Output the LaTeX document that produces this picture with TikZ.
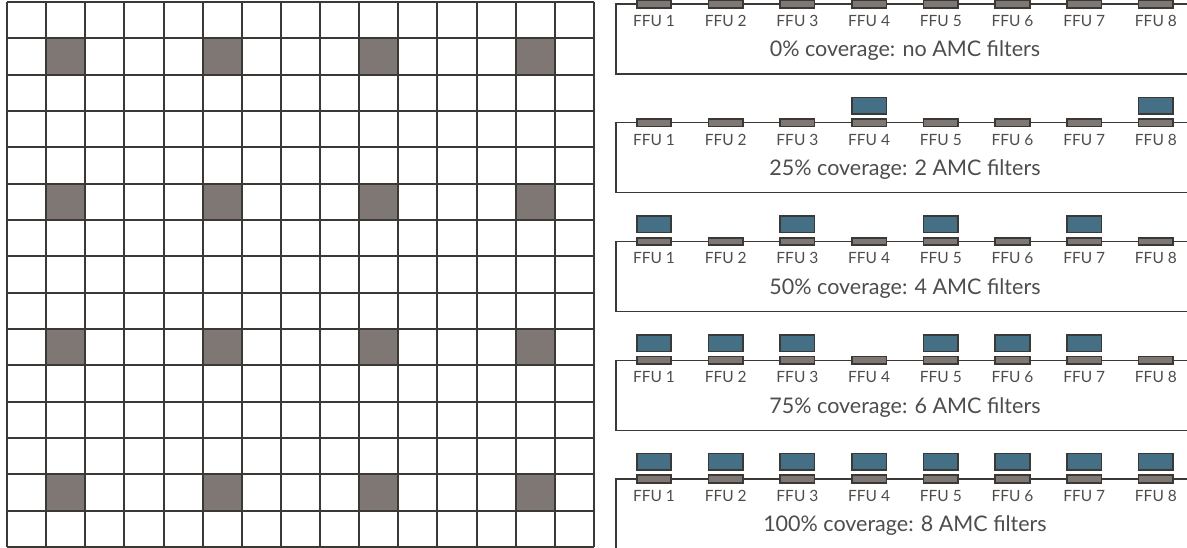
\documentclass[tikz,border=0pt]{standalone}
\usepackage{fontspec}
\setmainfont{Lato}
\usetikzlibrary{positioning}

\definecolor{gridline}{HTML}{3B3935}
\definecolor{ffugray}{HTML}{7F7773}
\definecolor{amcblue}{HTML}{456F85}
\definecolor{textgray}{HTML}{4F4D4B}

\tikzset{
  cell/.style={draw=gridline, line width=2pt},
  panel/.style={draw=gridline, line width=1.5pt},
  ffu/.style={draw=gridline, fill=ffugray, line width=1.6pt, minimum width=34.5pt, minimum height=7.5pt, inner sep=0pt},
  amc/.style={draw=gridline, fill=amcblue, line width=1.6pt, minimum width=34.5pt, minimum height=16.5pt, inner sep=0pt},
  ffulabel/.style={font=\fontsize{15.5}{15.5}\selectfont, text=textgray, inner sep=0pt},
  caption/.style={font=\fontsize{21.5}{21.5}\selectfont, text=textgray, inner sep=0pt}
}

\begin{document}
\begin{tikzpicture}[x=1pt, y=-1pt]
  \useasboundingbox (0,0) rectangle (1187,548);

  % ceiling grid with the filter positions
  \foreach \c in {1,5,9,13}
    \foreach \r in {1,5,9,13}
      \fill[ffugray] (7+39.13*\c, 2+36.33*\r) rectangle +(39.13,36.33);
  \foreach \k in {0,...,15} {
    \draw[cell] (7+39.13*\k, 2) -- (7+39.13*\k, 547);
    \draw[cell] (7, 2+36.33*\k) -- (594, 2+36.33*\k);
  }

  % coverage panels
  \foreach \p/\txt in {0/{0\% coverage: no AMC filters},
                       1/{25\% coverage: 2 AMC filters},
                       2/{50\% coverage: 4 AMC filters},
                       3/{75\% coverage: 6 AMC filters},
                       4/{100\% coverage: 8 AMC filters}} {
    \coordinate (corner-\p) at (616, 4+118.75*\p);
    \coordinate (end-\p) at (1187, 4+118.75*\p);
    \coordinate (foot-\p) at (616, 74+118.75*\p);
    \coordinate (footend-\p) at (1187, 74+118.75*\p);
    \draw[panel] (end-\p) -- (corner-\p) -- (foot-\p) -- (footend-\p);
    \foreach \i in {1,...,8} {
      \node[ffu] (ffu-\p-\i) at (654+71.7*\i-71.7, 4+118.75*\p) {};
      \node[ffulabel, below=6.5pt of ffu-\p-\i] (lab-\p-\i) {FFU \i};
    }
    \node[caption] (cap-\p) at (905, 51+118.75*\p) {\txt};
  }

  % AMC filters
  \foreach \p/\i in {1/4, 1/8,
                     2/1, 2/3, 2/5, 2/7,
                     3/1, 3/2, 3/3, 3/5, 3/6, 3/7,
                     4/1, 4/2, 4/3, 4/4, 4/5, 4/6, 4/7, 4/8}
    \node[amc, above=3.5pt of ffu-\p-\i] (amc-\p-\i) {};
\end{tikzpicture}
\end{document}
